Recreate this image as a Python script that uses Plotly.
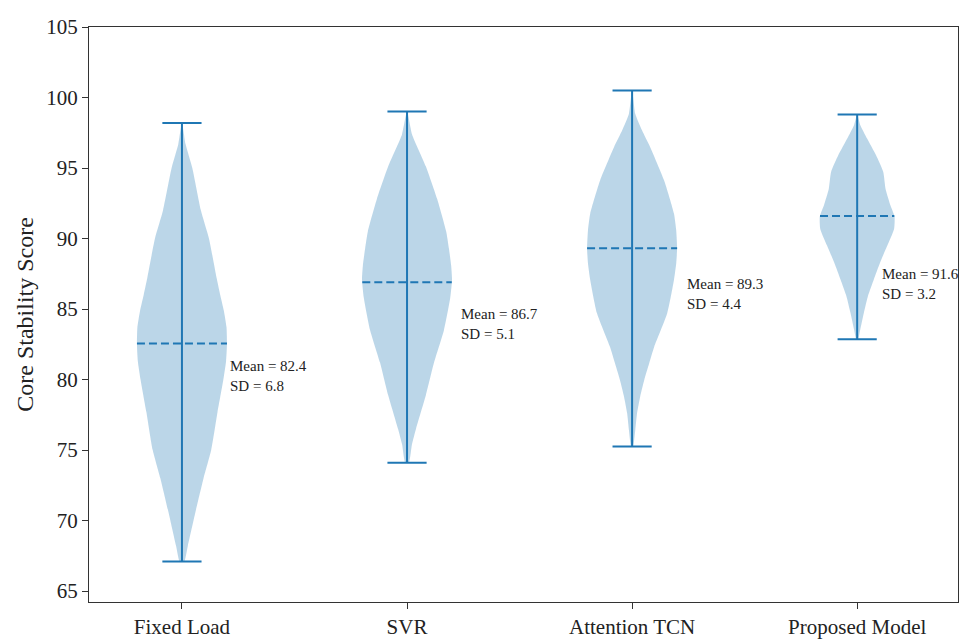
import numpy as np
import plotly.graph_objects as go

# ---------------- data ----------------
categories = ["Fixed Load", "SVR", "Attention TCN", "Proposed Model"]

# density profile (relative half-width, 1 = widest) at score levels
fixed_y = [98.2, 96.7, 95.0, 92.0, 90.0, 87.2, 86.0, 84.9, 83.7, 82.5, 81.3, 80.0, 77.7, 75.0, 73.0, 70.6, 68.2, 67.1]
fixed_w = [0.0, 0.08, 0.23, 0.42, 0.60, 0.77, 0.85, 0.93, 0.99, 1.0, 0.98, 0.92, 0.79, 0.65, 0.48, 0.30, 0.13, 0.05]

svr_y = [99.0, 97.4, 95.1, 92.8, 90.5, 89.3, 88.1, 87.1, 85.8, 83.5, 81.2, 78.9, 76.5, 75.4, 74.1]
svr_w = [0.0, 0.11, 0.42, 0.67, 0.87, 0.93, 0.98, 1.0, 0.96, 0.82, 0.60, 0.42, 0.20, 0.11, 0.04]

tcn_y = [100.5, 98.85, 97.67, 96.49, 94.13, 91.77, 90.59, 89.3, 88.23, 87.05, 84.69, 82.3, 81.15, 79.97, 78.8, 77.6, 76.4, 75.25]
tcn_w = [0.0, 0.07, 0.22, 0.40, 0.71, 0.93, 0.98, 1.0, 0.98, 0.93, 0.78, 0.49, 0.38, 0.27, 0.18, 0.11, 0.07, 0.02]

prop_y = [98.8, 98.04, 97.09, 95.9, 94.72, 93.53, 92.34, 91.56, 90.68, 89.5, 88.3, 87.1, 85.93, 84.75, 83.56, 82.85]
prop_w = [0.0, 0.07, 0.22, 0.42, 0.58, 0.63, 0.74, 0.83, 0.82, 0.67, 0.51, 0.37, 0.24, 0.15, 0.07, 0.02]

mins = [67.1, 74.1, 75.25, 82.85]
maxs = [98.2, 99.0, 100.5, 98.8]
mean_line = [82.55, 86.9, 89.3, 91.6]
mean_text = ["82.4", "86.7", "89.3", "91.6"]
sd_text = ["6.8", "5.1", "4.4", "3.2"]

# annotation anchors (score level of label block, horizontal offset from violin)
label_y = [80.24, 83.94, 86.07, 86.78]
label_dx = [0.206, 0.231, 0.237, 0.10]

yticks = [65, 70, 75, 80, 85, 90, 95, 100, 105]

# ---------------- styling ----------------
BLUE = "#1f77b4"
FILL = "rgba(31,119,180,0.30)"
FONT = "Liberation Serif"
MAXHALF = 0.20   # half-width of the widest violin, in x units
CAPHALF = 0.087

profiles = [(fixed_y, fixed_w), (svr_y, svr_w), (tcn_y, tcn_w), (prop_y, prop_w)]
positions = [1, 2, 3, 4]

fig = go.Figure()

for i, (py, pw) in enumerate(profiles):
    pos = positions[i]
    py = np.array(py, dtype=float)
    pw = np.array(pw, dtype=float) * MAXHALF
    xs = np.concatenate([pos + pw, (pos - pw)[::-1]])
    ys = np.concatenate([py, py[::-1]])
    fig.add_trace(go.Scatter(x=xs, y=ys, mode="lines", fill="toself",
                             fillcolor=FILL, line=dict(width=0, shape="spline", smoothing=0.5),
                             hoverinfo="skip", showlegend=False))

for i, (py, pw) in enumerate(profiles):
    pos = positions[i]
    fig.add_trace(go.Scatter(x=[pos, pos], y=[mins[i], maxs[i]], mode="lines",
                             line=dict(color=BLUE, width=2), showlegend=False, hoverinfo="skip"))
    for v in (mins[i], maxs[i]):
        fig.add_trace(go.Scatter(x=[pos - CAPHALF, pos + CAPHALF], y=[v, v], mode="lines",
                                 line=dict(color=BLUE, width=2), showlegend=False, hoverinfo="skip"))
    yy = np.array(py)[::-1]
    ww = np.array(pw)[::-1] * MAXHALF
    hw = float(np.interp(mean_line[i], yy, ww))
    fig.add_trace(go.Scatter(x=[pos - hw, pos + hw], y=[mean_line[i], mean_line[i]], mode="lines",
                             line=dict(color=BLUE, width=2, dash="8px,4px"),
                             showlegend=False, hoverinfo="skip"))
    fig.add_annotation(x=pos + label_dx[i], y=label_y[i], xref="x", yref="y",
                       text=f"Mean = {mean_text[i]}<br>SD = {sd_text[i]}",
                       showarrow=False, xanchor="left", yanchor="middle", align="left",
                       font=dict(family=FONT, size=15, color="#222"))

fig.add_annotation(x=-0.0745, y=0.5, xref="paper", yref="paper", text="Core Stability Score",
                   textangle=-90, showarrow=False, xanchor="center", yanchor="middle",
                   font=dict(family=FONT, size=24, color="#222"))

axis_common = dict(showline=True, mirror=True, linecolor="#333", linewidth=1.3,
                   ticks="outside", ticklen=6, tickwidth=1.2, tickcolor="#333",
                   showgrid=False, zeroline=False,
                   tickfont=dict(family=FONT, size=21, color="#222"))

fig.update_layout(
    width=961, height=641,
    margin=dict(l=89, r=3, t=27, b=39),
    plot_bgcolor="white", paper_bgcolor="white",
    xaxis=dict(range=[0.587, 4.448], tickvals=positions, ticktext=categories, **axis_common),
    yaxis=dict(range=[64.22, 105], tickvals=yticks, **axis_common),
    showlegend=False,
)

fig.write_html("out.html")
